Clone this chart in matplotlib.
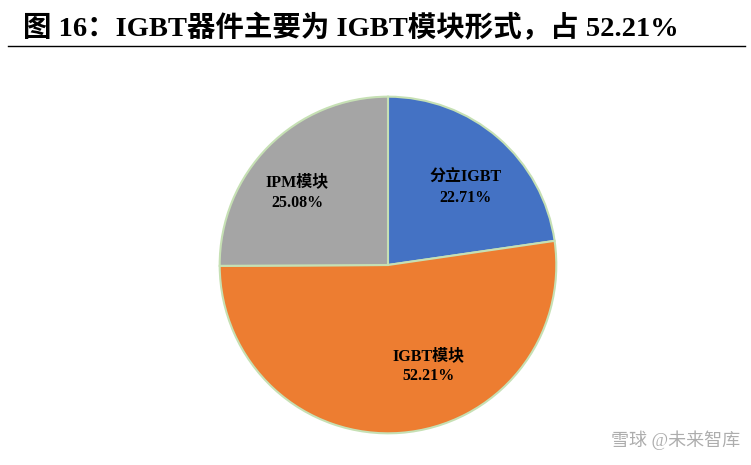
import matplotlib
matplotlib.use('Agg')
import matplotlib.pyplot as plt

plt.rcParams['font.family'] = ['Liberation Serif', 'Noto Sans CJK SC', 'DejaVu Sans']

labels = ['分立IGBT', 'IGBT模块', 'IPM模块']
values = [22.71, 52.21, 25.08]
colors = ['#4472C4', '#ED7D31', '#A5A5A5']

fig = plt.figure(figsize=(7.51, 4.65), dpi=100)
ax = fig.add_axes([(388 - 170) / 751, 1 - (265 + 170) / 465, 340 / 751, 340 / 465])

wedges, texts = ax.pie(values, colors=colors, startangle=90, counterclock=False,
                       wedgeprops=dict(edgecolor='#C6E0B4', linewidth=1.5))
ax.set_aspect('equal')
ax.set_xlim(-1.01, 1.01)
ax.set_ylim(-1.01, 1.01)

label_pos = [(0.46, 0.46), (0.24, -0.6), (-0.54, 0.43)]
for lab, v, (x, y) in zip(labels, values, label_pos):
    ax.text(x, y, f'{lab}\n{v:.2f}%', ha='center', va='center',
            fontsize=11.5, fontweight='bold', linespacing=1.35)

fig.text(0.03, 1 - 28 / 465, '图 16：IGBT器件主要为 IGBT模块形式，占 52.21%',
         fontsize=20.5, fontweight='bold', va='center', ha='left')
fig.add_artist(plt.Line2D([8 / 751, 745 / 751], [1 - 46 / 465] * 2,
                          color='black', linewidth=1))

fig.text(0.985, 1 - 440 / 465, '雪球 @未来智库', fontsize=13, color='#999999',
         ha='right', va='center', alpha=0.8)

fig.savefig('out.png', dpi=100)
